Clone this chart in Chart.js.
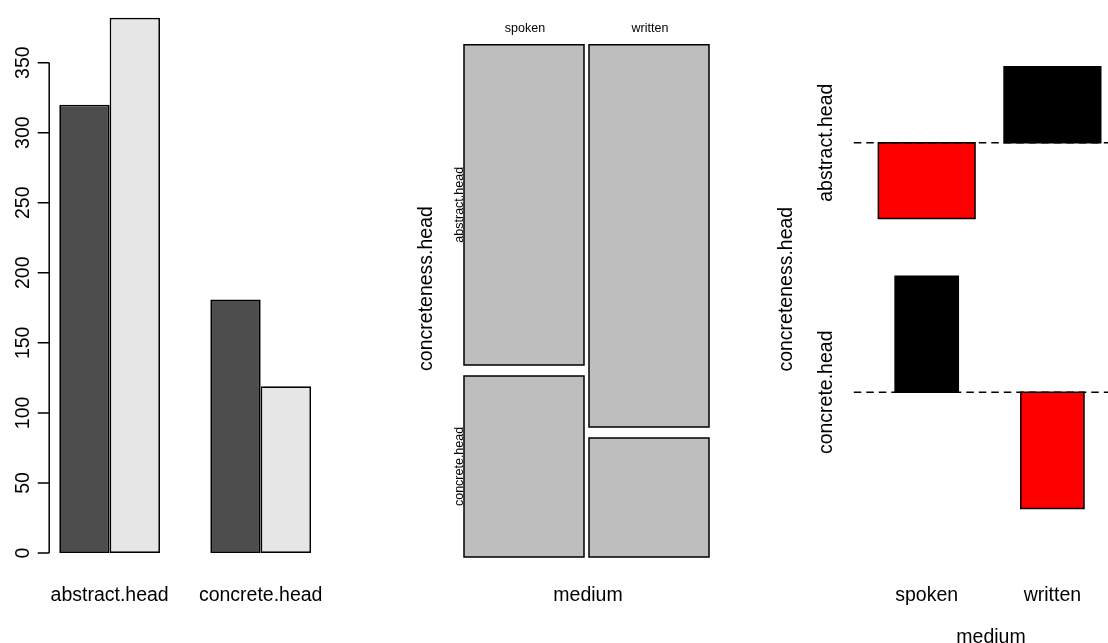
<!DOCTYPE html>
<html>
<head>
<meta charset="utf-8">
<title>Head noun concreteness by medium</title>
<script src="https://cdn.jsdelivr.net/npm/chart.js@4/dist/chart.umd.min.js"></script>
<style>
  html, body { margin: 0; padding: 0; background: #fff; overflow: hidden; width: 1108px; height: 643px; position: relative; }
  canvas { position: absolute; left: 0; top: 0; }
</style>
</head>
<body>
<canvas id="bars" width="1108" height="643"></canvas>
<canvas id="mosaic" width="1108" height="643"></canvas>
<canvas id="assoc" width="1130" height="643"></canvas>
<script>
// ---- data: counts of head nouns by concreteness and medium ----
const concreteness = ['abstract.head', 'concrete.head'];
const medium = ['spoken', 'written'];
const spokenCounts = [320, 181];   // abstract, concrete
const writtenCounts = [382, 119];  // abstract, concrete
const countTicks = [0, 50, 100, 150, 200, 250, 300, 350];
const xTitle = 'medium';
const yTitle = 'concreteness.head';

// ---- shared helpers ----
const FONT = '"Liberation Sans", Arial, Helvetica, sans-serif';
const UP = -Math.PI / 2;
const BIG = 19.5, SMALL = 12.5, LW = 1.5;

function drawText(ctx, str, x, y, size, angle) {
  ctx.save();
  ctx.translate(x, y);
  if (angle) ctx.rotate(angle);
  ctx.font = size + 'px ' + FONT;
  ctx.fillStyle = '#000';
  ctx.textAlign = 'center';
  ctx.textBaseline = 'alphabetic';
  ctx.fillText(str, 0, 0);
  ctx.restore();
}
const sum = a => a.reduce((s, v) => s + v, 0);
const mean = a => sum(a) / a.length;
function rectPoints(x0, x1, y0, y1) {
  return [{x: x0, y: y0}, {x: x1, y: y0}, {x: x1, y: y1}, {x: x0, y: y1}, {x: x0, y: y0}];
}
function boxDataset(pts, fillColor, order) {
  return {
    data: pts, fill: 'shape', backgroundColor: fillColor, borderColor: '#000',
    borderWidth: LW, borderCapStyle: 'square', borderJoinStyle: 'miter',
    pointRadius: 0, tension: 0, clip: false, order: order
  };
}
const baseOptions = {
  responsive: false, animation: false, events: [],
  plugins: { legend: { display: false }, tooltip: { enabled: false } }
};

// contingency table: table[medium][concreteness]
const table = [spokenCounts, writtenCounts];
const mediumTotals = table.map(sum);
const concTotals = concreteness.map((_, i) => sum(table.map(col => col[i])));
const grandTotal = sum(mediumTotals);

// ================= panel 1: grouped bar chart =================
const barAxes = {
  id: 'barAxes',
  afterDraw(chart) {
    const {ctx, scales: {x, y}} = chart;
    const axisX = 49.2;
    ctx.save();
    ctx.strokeStyle = '#000';
    ctx.lineWidth = LW;
    ctx.beginPath();
    ctx.moveTo(axisX, y.getPixelForValue(countTicks[0]));
    ctx.lineTo(axisX, y.getPixelForValue(countTicks[countTicks.length - 1]));
    countTicks.forEach(t => {
      const py = y.getPixelForValue(t);
      ctx.moveTo(axisX, py);
      ctx.lineTo(axisX - 11.5, py);
    });
    ctx.stroke();
    ctx.restore();
    countTicks.forEach(t => drawText(ctx, String(t), 29.3, y.getPixelForValue(t), BIG, UP));
    concreteness.forEach((c, i) => drawText(ctx, c, x.getPixelForValue(i), 601, BIG, 0));
  }
};

new Chart(document.getElementById('bars'), {
  type: 'bar',
  data: {
    labels: concreteness,
    datasets: [
      { label: medium[0], data: spokenCounts, backgroundColor: '#4d4d4d' },
      { label: medium[1], data: writtenCounts, backgroundColor: '#e6e6e6' }
    ]
  },
  options: Object.assign({}, baseOptions, {
    layout: { padding: { left: 34.1, right: 1108 - 336.2, top: 0, bottom: 69 } },
    datasets: { bar: { borderColor: '#000', borderWidth: LW + 0.2, borderSkipped: false,
                       barPercentage: 1, categoryPercentage: 2 / 3 } },
    scales: {
      x: { display: false },
      y: { display: false, min: -15, max: 394.7 }
    }
  }),
  plugins: [barAxes]
});

// ================= panel 2: mosaic plot =================
const mosaicOff = [0.0204, 0.0215];   // spacing between tiles (fraction of span)
const mosaicCells = [];
(function () {
  let xStart = 0;
  medium.forEach((m, j) => {
    const w = (1 - mosaicOff[0]) * mediumTotals[j] / grandTotal;
    let yStart = 0;
    for (let i = concreteness.length - 1; i >= 0; i--) {
      const h = (1 - mosaicOff[1]) * table[j][i] / mediumTotals[j];
      mosaicCells.push({ j, i, x0: xStart, x1: xStart + w, y0: yStart, y1: yStart + h });
      yStart += h + mosaicOff[1] / (concreteness.length - 1);
    }
    xStart += w + mosaicOff[0] / (medium.length - 1);
  });
})();

const mosaicLabels = {
  id: 'mosaicLabels',
  afterDraw(chart) {
    const {ctx, scales: {x, y}} = chart;
    medium.forEach((m, j) => {
      const c = mosaicCells.find(cell => cell.j === j);
      drawText(ctx, m, x.getPixelForValue((c.x0 + c.x1) / 2) + 1, 31.5, SMALL, 0);
    });
    concreteness.forEach((name, i) => {
      const c = mosaicCells.find(cell => cell.j === 0 && cell.i === i);
      drawText(ctx, name, 463.3, y.getPixelForValue((c.y0 + c.y1) / 2), SMALL, UP);
    });
    drawText(ctx, yTitle, 431.7, 288.5, BIG, UP);
    drawText(ctx, xTitle, 588, 601, BIG, 0);
  }
};

new Chart(document.getElementById('mosaic'), {
  type: 'line',
  data: {
    datasets: mosaicCells.map(c => boxDataset(rectPoints(c.x0, c.x1, c.y0, c.y1), '#bebebe', 1))
  },
  options: Object.assign({}, baseOptions, {
    layout: { padding: { left: 464, right: 1108 - 709, top: 44.7, bottom: 643 - 557 } },
    scales: {
      x: { type: 'linear', display: false, min: 0, max: 1 },
      y: { type: 'linear', display: false, min: 0, max: 1 }
    }
  }),
  plugins: [mosaicLabels]
});

// ================= panel 3: association plot =================
const expected = table.map((col, j) => col.map((_, i) => mediumTotals[j] * concTotals[i] / grandTotal));
const resid = table.map((col, j) => col.map((v, i) => (v - expected[j][i]) / Math.sqrt(expected[j][i])));
const boxW = expected.map(col => col.map(Math.sqrt));
const space = 0.3;
const colW = boxW.map(col => Math.max(...col));
const rowOrder = concreteness.map((_, i) => i).reverse();          // bottom row first
const rowH = rowOrder.map(i => Math.max(...resid.map(c => c[i])) - Math.min(...resid.map(c => c[i])));
const dX = mean(colW) * space, dY = mean(rowH) * space;
const xRange = sum(colW) + medium.length * dX;
const yRange = sum(rowH) + concreteness.length * dY;
const xMid = [];
(function () { let acc = 0; colW.forEach(w => { const left = acc; acc += w + dX; xMid.push((left + acc) / 2); }); })();
const yMid = [];
(function () {
  let acc = 0;
  rowOrder.forEach((i, k) => {
    acc += rowH[k] + dY;
    yMid[i] = acc - Math.max(...resid.map(c => Math.max(c[i], 0))) - dY / 2;
  });
})();
const xMin = -0.04 * xRange, xMax = 1.04 * xRange;
const yMin = -0.04 * yRange, yMax = 1.04 * yRange;

const assocSets = [];
concreteness.forEach((_, i) => {
  assocSets.push({
    data: [{x: xMin, y: yMid[i]}, {x: xMax, y: yMid[i]}],
    borderColor: '#000', borderWidth: LW, borderDash: [7.5, 5],
    pointRadius: 0, fill: false, clip: false, order: 0
  });
});
medium.forEach((_, j) => {
  concreteness.forEach((_, i) => {
    const r = resid[j][i];
    assocSets.push(boxDataset(
      rectPoints(xMid[j] - boxW[j][i] / 2, xMid[j] + boxW[j][i] / 2, yMid[i], yMid[i] + r),
      r >= 0 ? '#000000' : '#ff0000', 1));
  });
});

const assocLabels = {
  id: 'assocLabels',
  afterDraw(chart) {
    const {ctx, scales: {x, y}} = chart;
    medium.forEach((m, j) => drawText(ctx, m, x.getPixelForValue(xMid[j]), 601, BIG, 0));
    concreteness.forEach((c, i) => drawText(ctx, c, 831.7, y.getPixelForValue(yMid[i]), BIG, UP));
    drawText(ctx, yTitle, 791.7, 289.2, BIG, UP);
    drawText(ctx, xTitle, 991, 643, BIG, 0);
  }
};

new Chart(document.getElementById('assoc'), {
  type: 'line',
  data: { datasets: assocSets },
  options: Object.assign({}, baseOptions, {
    layout: { padding: { left: 853.8, right: 1130 - 1125.3, top: 18, bottom: 643 - 557.2 } },
    scales: {
      x: { type: 'linear', display: false, min: xMin, max: xMax },
      y: { type: 'linear', display: false, min: yMin, max: yMax }
    }
  }),
  plugins: [assocLabels]
});
</script>
</body>
</html>
